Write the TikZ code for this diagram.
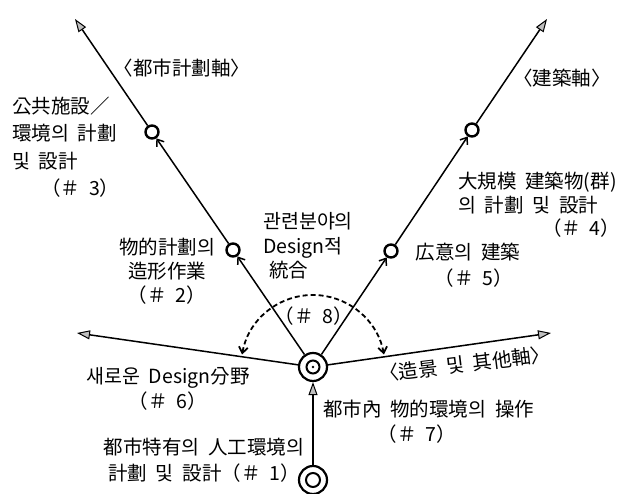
\documentclass[tikz,border=0pt]{standalone}
\usepackage{fontspec}
\setmainfont{Noto Sans CJK KR}[WordSpace=2]
\usetikzlibrary{arrows.meta}

\begin{document}
\begin{tikzpicture}[x=1pt,y=1pt,
    axe/.style={line width=1.5pt},
    bout/.style={-{Triangle[length=13pt,width=9pt,fill=gray!50,line width=1pt]}},
    fleche/.style={-{Straight Barb[length=6pt,width=9pt]}},
    rond/.style={circle,draw,line width=2.4pt,minimum size=13pt,inner sep=0pt},
    grandrond/.style={circle,draw,line width=2.2pt,minimum size=28pt,inner sep=0pt},
    texte/.style={font=\fontsize{19.5}{27}\selectfont,inner sep=0pt}]
  \useasboundingbox (0,0) rectangle (627,494);
  % points
  \node [grandrond] (c7) at (313,127) {};
  \draw [line width=2pt] (c7.center) circle (6.5);
  \fill (c7.center) circle (1.3);
  \node [grandrond] (c1) at (313,14) {};
  \draw [line width=2pt] (c1.center) circle (7);
  \node [rond] (c2) at (233,244) {};
  \node [rond] (c3) at (152,362) {};
  \node [rond] (c5) at (391,243) {};
  \node [rond] (c4) at (472,364) {};
  \coordinate (hg) at (75,475);
  \coordinate (hd) at (547,475);
  \coordinate (g) at (77,161);
  \coordinate (d) at (551,161);
  % axes
  \draw [axe,bout] (c1) -- (c7);
  \draw [axe,fleche] (c7) -- (c2);
  \draw [axe,fleche] (c2) -- (c3);
  \draw [axe,bout] (c3) -- (hg);
  \draw [axe,fleche] (c7) -- (c5);
  \draw [axe,fleche] (c5) -- (c4);
  \draw [axe,bout] (c4) -- (hd);
  \draw [axe,bout] (c7) -- (g);
  \draw [axe,bout] (c7) -- (d);
  \draw [line width=1.8pt,dash pattern=on 5pt off 3pt,{Straight Barb[length=6pt,width=9pt]}-{Straight Barb[length=6pt,width=9pt]}]
    ([shift={(170:72)}]c7.center) arc [start angle=170,end angle=10,radius=72];
  % textes
  \node [texte] (ax1) at (182,426) {〈都市計劃軸〉};
  \node [texte] (ax2) at (562,416) {〈建築軸〉};
  \node [texte,rotate=7] (ax3) at (465,130) {〈造景 및 其他軸〉};
  \node [texte,align=left,anchor=west,font=\fontsize{19.5}{27.5}\selectfont] (t3) at (12,347)
    {公共施設／\\環境의 計劃\\및 設計\\\hspace*{1.5em}（＃ 3）};
  \node [texte,align=center,font=\fontsize{19.5}{24}\selectfont] (t2) at (167,223)
    {物的計劃의\\造形作業\\（＃ 2）};
  \node [texte,align=left,anchor=west,font=\fontsize{19.5}{24.5}\selectfont] (t8a) at (263,248)
    {관련분야의\\Design적\\\hspace*{0.3em}統合};
  \node [texte] (t8) at (314,178) {（＃ 8）};
  \node [texte,align=center,font=\fontsize{19.5}{26}\selectfont] (t5) at (468,229) {広意의 建築\\\hspace*{0.6em}（＃ 5）};
  \node [texte,align=left,anchor=west,font=\fontsize{19.5}{23.5}\selectfont] (t4) at (458,289)
    {大規模 建築物(群)\\의 計劃 및 設計\\\hspace*{4.3em}（＃ 4）};
  \node [texte,align=center,font=\fontsize{19.5}{25}\selectfont] (t6) at (168,105) {새로운 Design分野\\（＃ 6）};
  \node [texte,align=left,anchor=west,font=\fontsize{19.5}{25}\selectfont] (t7) at (323,72)
    {都市內 物的環境의 操作\\\hspace*{2.8em}（＃ 7）};
  \node [texte,align=center,font=\fontsize{19.5}{26}\selectfont] (t1) at (204,34) {都市特有의 人工環境의\\計劃 및 設計（＃ 1）};
\end{tikzpicture}
\end{document}
